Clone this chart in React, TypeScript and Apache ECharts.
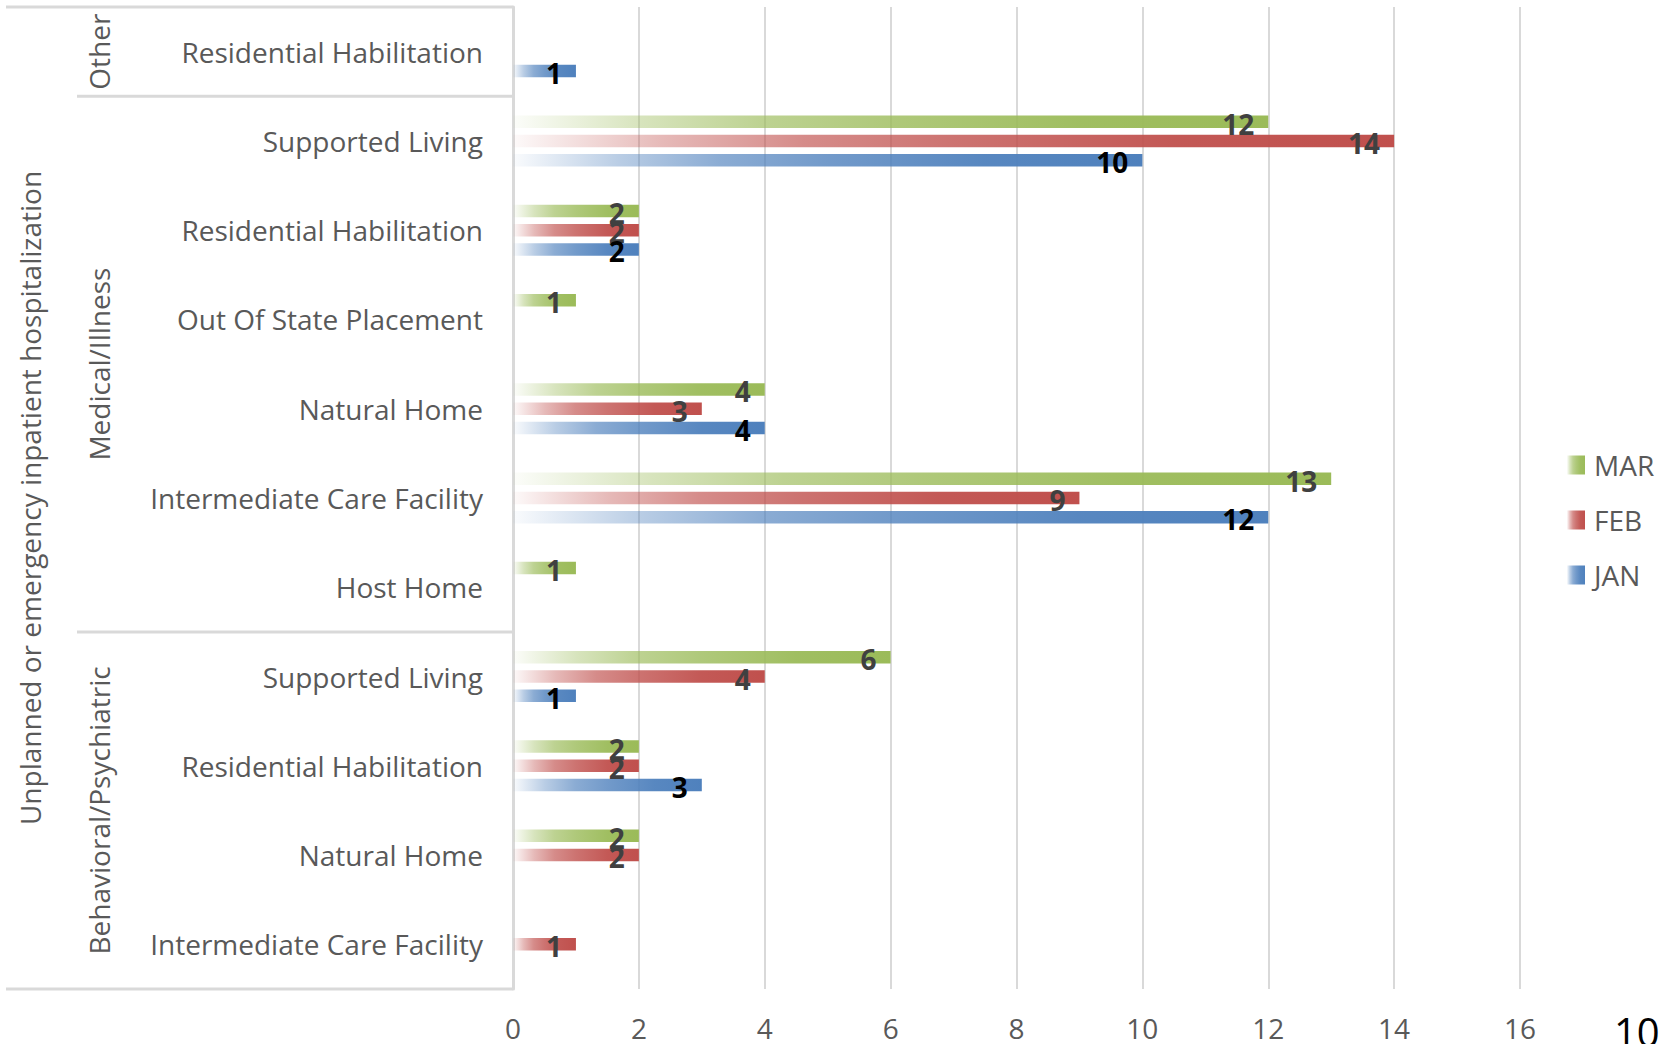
import React, { useEffect, useRef } from 'react';
import * as echarts from 'echarts';

// Categories listed from bottom to top (prefix = outer group key)
const categories = [
  'B|Intermediate Care Facility',
  'B|Natural Home',
  'B|Residential Habilitation',
  'B|Supported Living',
  'M|Host Home',
  'M|Intermediate Care Facility',
  'M|Natural Home',
  'M|Out Of State Placement',
  'M|Residential Habilitation',
  'M|Supported Living',
  'O|Residential Habilitation',
];

const groupNames = ['Behavioral/Psychiatric', 'Medical/Illness', 'Other'];
const groupStart = [0, 4, 10];
const groupEnd = [3, 9, 10];
const outerTitle = 'Unplanned or emergency inpatient hospitalization';

const janValues = [null, null, 3, 1, null, 12, 4, null, 2, 10, 1];
const febValues = [1, 2, 2, 4, null, 9, 3, null, 2, 14, null];
const marValues = [null, 2, 2, 6, 1, 13, 4, 1, 2, 12, null];

const seriesNames = ['MAR', 'FEB', 'JAN'];
const seriesColors = ['155,187,89', '192,80,77', '79,129,189'];
const labelColors = ['#404040', '#404040', '#000000'];

const xMin = 0;
const xMax = 16;
const xInterval = 2;

const pageNumber = '10';

const FONT = 'Open Sans';

function grad(rgb: string) {
  return new echarts.graphic.LinearGradient(0, 0, 1, 0, [
    { offset: 0, color: `rgba(${rgb},0.03)` },
    { offset: 0.17, color: `rgba(${rgb},0.4)` },
    { offset: 0.33, color: `rgba(${rgb},0.66)` },
    { offset: 0.5, color: `rgba(${rgb},0.8)` },
    { offset: 0.75, color: `rgba(${rgb},0.95)` },
    { offset: 1, color: `rgba(${rgb},1)` },
  ]);
}

export default function App() {
  const ref = useRef<HTMLDivElement>(null);
  useEffect(() => {
    if (!ref.current) return;
    const chart = echarts.init(ref.current, null, { renderer: 'svg' });
    const values = [marValues, febValues, janValues];
    chart.setOption({
      animation: false,
      backgroundColor: '#ffffff',
      grid: { left: 513, right: 155, top: 7, bottom: 55, containLabel: false },
      legend: {
        orient: 'vertical',
        left: 1562,
        top: 445,
        itemWidth: 18,
        itemHeight: 19,
        itemGap: 25,
        icon: 'rect',
        data: seriesNames,
        textStyle: { color: '#595959', fontSize: 28, fontFamily: FONT, lineHeight: 30, padding: [0, 0, 0, 4] },
      },
      xAxis: {
        type: 'value',
        min: xMin,
        max: xMax,
        interval: xInterval,
        axisLine: { show: false },
        axisTick: { show: false },
        axisLabel: { color: '#595959', fontSize: 28, fontFamily: FONT, margin: 27, lineHeight: 24 },
        splitLine: { show: true, lineStyle: { color: '#d9d9d9', width: 2 } },
      },
      yAxis: {
        type: 'category',
        data: categories,
        axisLine: { show: true, lineStyle: { color: '#d9d9d9', width: 3 } },
        axisTick: { show: false },
        axisLabel: {
          color: '#595959',
          fontSize: 28,
          fontFamily: FONT,
          margin: 30,
          formatter: (v: string) => v.split('|')[1],
        },
      },
      series: seriesNames.map((name, i) => ({
        name,
        type: 'bar',
        data: values[i],
        barWidth: 12.5,
        barGap: '54%',
        itemStyle: { color: grad(seriesColors[i]) },
        label: {
          show: true,
          position: 'insideRight',
          distance: 14,
          offset: [0, 2],
          color: labelColors[i],
          fontSize: 28,
          fontWeight: 'bold',
          fontFamily: FONT,
        },
      })),
    });

    const py = (idx: number) => chart.convertToPixel({ yAxisIndex: 0 }, categories[idx]) as number;
    const rowH = Math.abs(py(0) - py(1));
    const axisX = chart.convertToPixel({ xAxisIndex: 0 }, xMin) as number;
    const topY = py(categories.length - 1) - rowH / 2;
    const botY = py(0) + rowH / 2;
    const lineStyle = { stroke: '#d9d9d9', lineWidth: 3 };
    const elements: any[] = [
      { type: 'line', shape: { x1: 6, y1: topY, x2: axisX, y2: topY }, style: lineStyle, silent: true },
      { type: 'line', shape: { x1: 6, y1: botY, x2: axisX, y2: botY }, style: lineStyle, silent: true },
      {
        type: 'text',
        x: 30,
        y: (topY + botY) / 2,
        rotation: Math.PI / 2,
        style: { text: outerTitle, fontSize: 28, fontFamily: FONT, fill: '#595959', align: 'center', verticalAlign: 'middle' },
        silent: true,
      },
      {
        type: 'text',
        x: 1614,
        y: 1031,
        style: { text: pageNumber, fontSize: 40, fontFamily: FONT, fill: '#000000', align: 'left', verticalAlign: 'middle' },
        silent: true,
      },
    ];
    groupNames.forEach((g, i) => {
      const gTop = py(groupEnd[i]) - rowH / 2;
      const gBot = py(groupStart[i]) + rowH / 2;
      elements.push({
        type: 'text',
        x: 99,
        y: (gTop + gBot) / 2,
        rotation: Math.PI / 2,
        style: { text: g, fontSize: 28, fontFamily: FONT, fill: '#595959', align: 'center', verticalAlign: 'middle' },
        silent: true,
      });
      if (i > 0) {
        elements.push({ type: 'line', shape: { x1: 77, y1: gBot, x2: axisX, y2: gBot }, style: lineStyle, silent: true });
      }
    });
    chart.setOption({ graphic: { elements } });

    return () => chart.dispose();
  }, []);
  return <div ref={ref} style={{ position: 'fixed', left: 0, top: 0, width: 1675, height: 1044 }} />;
}
